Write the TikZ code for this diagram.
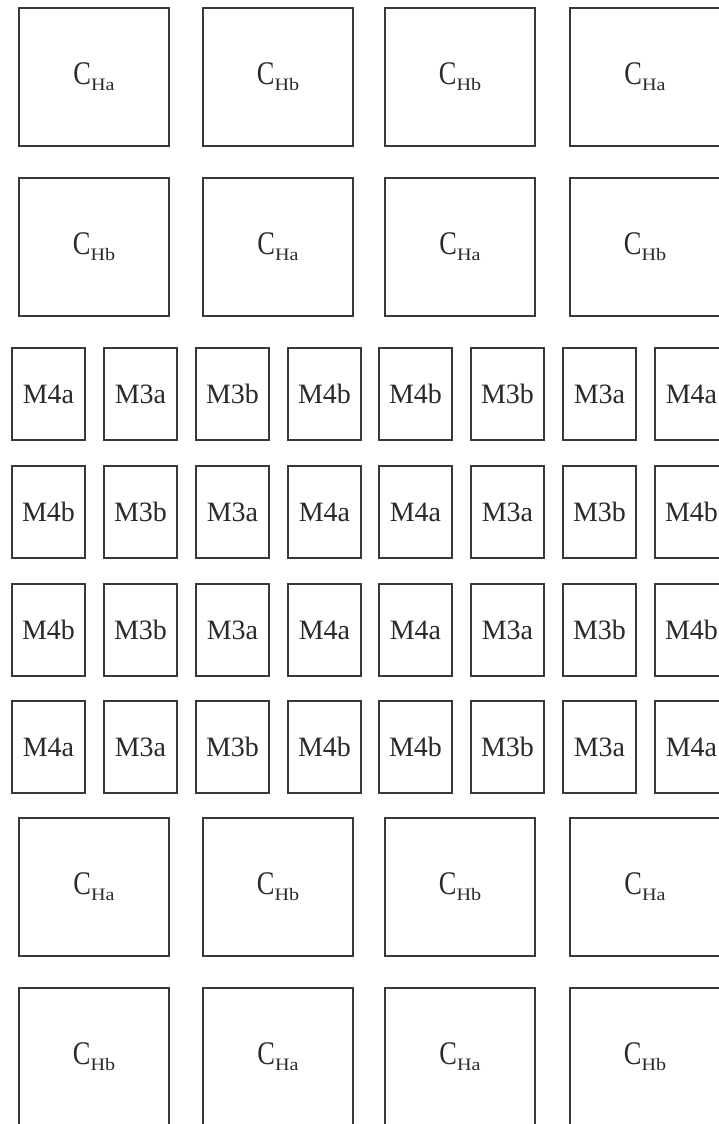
\documentclass[tikz,border=0pt]{standalone}
\usepackage{graphicx}
\usepackage{fontspec}
\setmainfont{Liberation Serif}
\definecolor{edge}{HTML}{383838}
\definecolor{ink}{HTML}{2a2a2a}
\tikzset{
  bigbox/.style={draw=edge, line width=2pt, rectangle, minimum width=150pt, minimum height=138pt, inner sep=0pt, anchor=north west, text=ink},
  smallbox/.style={draw=edge, line width=2pt, rectangle, minimum width=73pt, minimum height=92pt, inner sep=0pt, anchor=north west, text=ink, font=\fontsize{28}{28}\selectfont},
}
\newcommand{\clab}[1]{\fontsize{33}{33}\selectfont\scalebox{0.8}[1]{C}\raisebox{-6pt}{\scalebox{1.15}[1]{\fontsize{17.5}{18}\selectfont #1}}}
\begin{document}
\begin{tikzpicture}[x=1pt,y=-1pt]
\useasboundingbox (0,0) rectangle (719,1124);
\clip (0,0) rectangle (719,1124);
\fill[white] (0,0) rectangle (719,1124);
% big boxes
\foreach \r/\ty/\labs in {1/7/{Ha,Hb,Hb,Ha}, 2/177/{Hb,Ha,Ha,Hb}, 7/817/{Ha,Hb,Hb,Ha}, 8/987/{Hb,Ha,Ha,Hb}}{
  \foreach \lx [count=\c] in {18,202,384,569}{
    \foreach \l [count=\k] in \labs {
      \ifnum\k=\c
        \node[bigbox] (B\r-\c) at (\lx,\ty) {\clab{\l}};
      \fi
    }
  }
}
% small boxes
\foreach \r/\ty/\labs in {3/347/{M4a,M3a,M3b,M4b,M4b,M3b,M3a,M4a}, 4/465/{M4b,M3b,M3a,M4a,M4a,M3a,M3b,M4b}, 5/583/{M4b,M3b,M3a,M4a,M4a,M3a,M3b,M4b}, 6/700/{M4a,M3a,M3b,M4b,M4b,M3b,M3a,M4a}}{
  \foreach \lx [count=\c] in {11,103,195,287,378,470,562,654}{
    \foreach \l [count=\k] in \labs {
      \ifnum\k=\c
        \node[smallbox] (S\r-\c) at (\lx,\ty) {\l};
      \fi
    }
  }
}
\end{tikzpicture}
\end{document}
